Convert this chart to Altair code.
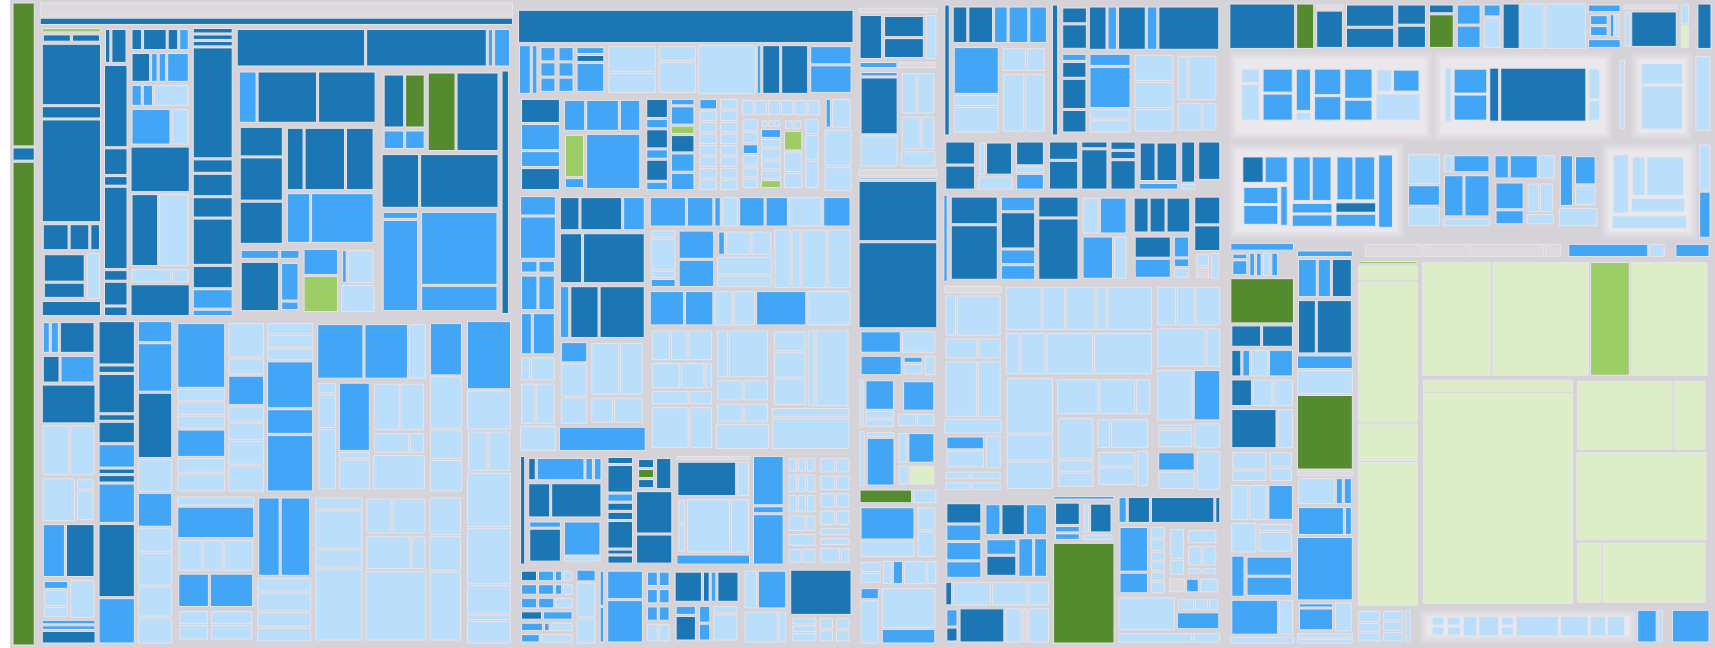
import altair as alt
import pandas as pd

# Colour codes used in the trees: D dark blue, M blue, L light blue,
# G dark green, g green, e pale green, x empty folder, _ spacer (not drawn)
COLORS = {"D": "#1b76b3", "M": "#42a5f5", "L": "#bbdefb", "G": "#558b2f",
          "g": "#9ccc65", "e": "#dcedc8", "x": "#dcd9df"}
HALO = ["#d8d5db", "#dcd9df", "#e0dde3", "#e5e2e7", "#ebe8ed"]

# Node = "C<size>" leaf, or [size, "h"|"v" (upper case: folder with halo), child, ...]
STRIP = [25, "v", "G145", "D12", "G491"]

A_TOP_1 = [62, "v", "g3", [8, "h", "D26", "D26"], "D61", "D11", "D103", [27, "h", "D24", "D18", "D8"],
           [47, "h", [42, "v", "D30", "D16"], "L12"], "D14"]
A_TOP_2 = [25, "v", [34, "h", "D4", "D14"], "D80", "D25", "D8", "D80", "D9", "D22", "D8"]
A_TOP_3 = [62, "v", [22, "h", "D9", "D22", "D9", "M8"], [30, "h", "D17", "M5", "M6", "M20"],
           [22, "h", "M9", "M9", "L34"], [37, "h", "M38", "L16"], "D45", [74, "h", "D25", "L28"],
           [14, "h", "L38", "L15"], "D31"]
A_TOP_4 = [42, "v", "D4", "D4", "D4", "D110", "D12", "D21", "D19", "D45", "D21", "M18", "M5"]
A_P = [146, "v", [52, "h", "M17", "D60", "D58"],
       [120, "h", [46, "v", "D29", "D43", "D42"], [94, "v", [65, "h", "D17", "D43", "D29"], [52, "h", "M24", "M67"]]],
       [66, "h", [63, "v", [10, "h", "M41", "M20"], [52, "h", "D41", [20, "v", "M40", "M8"]]],
        [36, "v", "M25", "g35"], [35, "v", [34, "h", "M4", "L29"], "L26"]]]
A_Q = [136, "h", [119, "v", [80, "h", [43, "v", [56, "h", "D20", "G19"], [20, "h", "M20", "M19"]], "G26", "D40"],
                  [55, "h", "D36", "D77"], [103, "h", [36, "v", "M6", "M95"], [77, "v", "M75", "M25"]]], "D6"]
A_TOP_5 = [286, "v", [38, "h", "D131", "D123", "M4", "M15"], [246, "h", A_P, A_Q]]
A_TOP = [297, "h", A_TOP_1, A_TOP_2, A_TOP_3, A_TOP_4, A_TOP_5]

A_B1 = [56, "v", [31, "h", "M5", "M6", "D31"], [27, "h", "D14", "M30"], "D37", [50, "h", "L24", "L22"],
        [43, "h", "L29", [16, "v", "L10", "L32"]], [53, "h", "M19", "D25"],
        [38, "h", [23, "v", "M6", "L14", "L8"], "L21"], "M3", "M3", "D11"]
A_B2 = [38, "v", "D42", "D6", "D38", "D5", "D20", "M22", "D4", "D6", "M38", "D72", "M44"]
A_B3 = [36, "v", "M20", "M48", "D65", "L32", "M33", "L23", "L32", "L29", "L25"]
R1 = [52, "v", "M66", "L11", "L12", "L12", "M27", "L14", "L17"]
R2 = [39, "v", "L35", "L16", "M30", "L15", "L17", "L24", "L26"]
R3 = [50, "v", "L10", "L11", "L11", "M47", "M24", "M57"]
R4 = [119, "v", [58, "h", "M49", "M46", "L17"],
      [115, "h", [21, "v", "L10", "L35", "L64"], [36, "v", "M73", "L6", "L31"],
       [60, "v", [51, "h", "L29", "L26"], [22, "h", "L43", "L16"], "L36"]]]
R5 = [35, "v", "M51", "L51", "L28", "L30"]
RB1 = [81, "v", "L8", "M31", [32, "h", "L24", "L19", "L30"], [35, "h", "M30", "M43"],
       [32, "h", [30, "v", "L14", "L16"], [43, "v", "L14", "L16"]]]
RB2 = [57, "v", [78, "h", "M20", "M28"], "L12", "L17", "L13", "L12"]
RB3 = [155, "h", [52, "v", "L10", "L36", "L16", "L69"], [67, "v", [35, "h", "L28", "L37"], [33, "h", "L51", "L15"], "L67"],
       [35, "v", "L36", "L33", "L67"]]
R_BLOCK = [298, "v", [176, "h", R1, R2, R3, R4, R5], [152, "h", RB1, RB2, RB3]]
RCOL = [46, "v", "M67", "L38", [40, "h", "L18", "L20"], "L53", "L55", "L27", "L4", "L21"]
A_BOT = [332, "h", A_B1, A_B2, A_B3, R_BLOCK, RCOL]
BLOCK_A = [480, "v", "x13", "D6", A_TOP, A_BOT]

B_R1 = [51, "h", "M10", "M4", [65, "h", [16, "v", "M13", "M13", "M13"], [16, "v", "M13", "M13", "M13"], [29, "v", "M5", "D5", "M26"]],
        [47, "v", "L21", "L16"], [37, "v", "L11", "L25"], "L55", "M3", "D16", "D25", [41, "v", "M14", "M22"]]
B_S1 = [121, "h", [40, "v", "D22", "M24", "M14", "D20"], [80, "v", [31, "h", "M21", "M33", "M20"], [55, "h", [21, "v", "g43", "M9"], "M56"]]]
B_S2 = [50, "h", [23, "v", "D18", "M8", "D18", "M8", "D20", "M7"], [25, "v", "M5", "M17", "g7", "D16", "M17", "M16"]]
B_S3 = [122, "h", [19, "v", "M10", "L10", "L10", "L10", "L10", "L10", "L10", "L10"],
        [19, "v", "L10", "L10", "L10", "L10", "L10", "L10", "L10", "L10"],
        [84, "v", [17, "h", "L12", "L12", "L12", "L12", "L12", "L12"],
         [76, "h", [17, "v", "L12", "L12", "M10", "L12", "L10", "L10"], [22, "v", [8, "h", "L5", "L5", "L5"], "M8", "L8", "L10", "L8", "L8", "g7"],
          [20, "v", [8, "h", "L5", "L5"], "g16", "L17", "L12"], [15, "v", "L10", "L18", "L20"]]]]
B_S4 = [27, "v", [30, "h", "M4", "L18"], "L36", "L23"]
B_R2 = [99, "h", B_S1, B_S2, B_S3, B_S4]
B_C1 = [37, "v", "M19", "M43", [13, "h", "M17", "M17"], [37, "h", "M17", "M17"], [44, "h", "M8", "M18"],
        [25, "h", "L7", "L21"], [43, "h", "L12", "L16"], "L25"]
B_C2 = [89, "v", [34, "h", "D18", "D40", "M20"], [51, "h", "D21", "D61"], [53, "h", "M8", "D27", "D44"],
        [85, "h", [28, "v", "M20", "L34", "L26"], [56, "v", [55, "h", "L30", "L24"], [27, "h", "L23", "L31"]]], "M23"]
B_C3 = [207, "v", [31, "h", "M35", "M25", "M5", "L15", "M24", "M21", "L32", "M26"],
        [61, "h", [26, "v", "L6", "L31", "L6", "M7"], [37, "v", "M28", "M27"], [57, "v", [26, "h", "M6", "L26", "L21"], "L18", "L11"],
         "L15", "L8", "L24", "L22"],
        [36, "h", "M33", "M27", "L17", "L20", "M49", "L42"],
        [126, "h", [66, "v", [33, "h", "L19", "L17", "L25"], [28, "h", "L30", "L25", "L6"], [15, "h", "L39", "L23"], [45, "h", "L39", "L23"]],
         [56, "v", [50, "h", "L10", "L40"], [22, "h", "L24", "L23"], [20, "h", "L24", "L23"], "L25"],
         [82, "v", [78, "h", [35, "v", "L20", "L26", "L27"], "L6", "L34"], "L8", "L30"]]]
B_R3 = [266, "h", B_C1, B_C2, B_C3]
B_D1 = [86, "h", "D4", [80, "v", [23, "h", "D6", "M46", "M6", "M6"], [35, "h", "D21", "D50"], [43, "h", [33, "v", "M5", "D33"], [38, "v", "M35", "L4"]]]]
B_D2 = [69, "h", [27, "v", "D5", "D24", "M6", "D6", "D6", "D24", "D3", "D6"], [38, "v", [31, "h", [18, "v", "D8", "G8", "D8"], "D15"], "D40", "D27"]]
B_D3 = [76, "v", "x2", [33, "h", "D56", "L10"], [51, "h", [7, "v", "L23", "L26"], "L40", "L16"], "M8"]
B_D4 = [32, "v", "M45", "M5", "M46"]
B_D5 = [67, "h", [32, "v", [16, "h", "L9", "L9", "L9"], [20, "h", "L9", "L9", "L9"], [20, "h", "L9", "L9", "L9"], [18, "h", "L18", "L9"], [14, "h", "L27"], [16, "h", "L13", "L13"]],
        [35, "v", [16, "h", "L12", "L11"], [16, "h", "L12", "L11"], [16, "h", "L12", "L11"], [16, "h", "L12", "L11"], [8, "h", "L23"], [8, "h", "L23"], [16, "h", "L22", "L9"]]]
B_R4 = [115, "h", B_D1, B_D2, B_D3, B_D4, B_D5]
B_E1 = [55, "v", [10, "h", "D13", "M13", "M5", "L7"], [10, "h", "M13", "M13", "M5", "L7"], [10, "h", "M13", "M13", "L14"],
        [8, "h", "D20", "M29"], [8, "h", "M20", "M4", "L20"], [8, "h", "M17", "L30"]]
B_E2 = [20, "v", "M9", "L30", "L21"]
B_E3 = [145, "h", [5, "v", "M30", "M30"], [36, "v", "M23", "M35"],
        [25, "v", [13, "h", "M11", "M11"], [13, "h", "M11", "M11"], [13, "h", "M11", "M11"], [16, "h", "L11", "L11"]],
        [66, "v", [28, "h", "D25", "D5", "M4", "D19"], [34, "h", [21, "v", "M8", "D24"], [12, "v", "M16", "M16"], [25, "v", "L6", "L25"]]]]
B_E4 = [45, "v", [34, "h", "L10", "M25"], [28, "h", "L32", "L6"]]
B_E5 = [63, "v", "D42", [25, "h", [28, "v", "L6", "L6", "L8"], [16, "v", "L8", "L8"], [16, "v", "L8", "L8"]]]
B_R5 = [79, "h", B_E1, B_E2, B_E3, B_E4, B_E5]
BLOCK_B = [341, "v", "_5", "D33", B_R1, B_R2, B_R3, B_R4, B_R5]

C_T1 = [47, "h", "D17", [33, "v", "D14", "D13"], "L7"]
C_T2 = [102, "h", [30, "v", "M3", "D56", "L30"], [28, "v", [42, "h", "L12", "L14"], [34, "h", "L16", "L10"], "L14"]]
C_R3 = [49, "v", [22, "h", "M34", "L28"], [20, "h", "M35", [17, "v", "M4", "L8"], "L8"]]
C_R4 = [52, "h", "L2", [27, "v", "M24", "L5", "L5"], [36, "v", [28, "h", "_2", "M26"], [12, "h", "L18", "L17"]]]
C_R5 = [59, "h", "L3", [25, "v", "L3", "M44"], [34, "v", [28, "h", "L8", "M26"], [18, "h", "L8", "e22"]]]
C_R6 = [15, "h", "G45", "L19"]
C_R7 = [55, "h", [48, "v", "M33", "L16"], [16, "v", "L23", "L26"]]
C_R8 = [25, "h", [17, "v", "L8", "L8"], "L6", "M7", "L17", "L6"]
C_R9 = [61, "h", [18, "v", "M10", "L43"], [52, "v", "L38", "M13"]]
BLOCK_C = [82, "v", "_3", "x4", C_T1, [7, "h", "M35", "x35"], C_T2, "x6", "M1", "D62", "D89",
           C_R3, C_R4, C_R5, C_R6, C_R7, C_R8, C_R9]

D_1 = [107, "h", "D4", [98, "v", [38, "h", "D13", "D23", "M12", "M18", "M16"],
                        [90, "h", [47, "v", "M47", "L10", "L25"], [46, "v", [25, "h", "L24", "L18"], [62, "h", "L22", "L20"]]]]]
D_2 = [173, "h", "D5", [165, "v", [47, "h", [25, "v", "D17", "D27"], "D16", "M8", "D26", "M9", "D59"],
                        [87, "h", [25, "v", "M6", "D15", "D30", "D22"], [42, "v", "M12", "M44", "L10", "L12"],
                         [86, "h", [42, "v", "L28", "L28", "L24"], [44, "v", [50, "h", "L10", "L30"], [31, "h", "L26", "L14"]]]]]]
D_TOP = [137, "h", D_1, D_2]
D_3 = [54, "h", [100, "h", [30, "v", "D22", "D23"], [35, "v", [34, "h", "L5", "D27"], "L12"], [28, "v", "D22", "L5", "M14"]],
       [172, "h", [29, "v", "D14", "D23"], [26, "v", "D4", "D32"], [25, "v", "D5", "D5", "D22"], [39, "v", [33, "h", "D15", "D20"], "M4"],
        [14, "v", "D37", "L4"], [22, "v", "D32", "_6"]]]
D_4 = [90, "h", "M3", [183, "h", [49, "v", "D24", "D49"], [36, "v", "M12", "D32", "M12", "M12"], [42, "v", "D18", "D56"],
                       [48, "v", [34, "h", "L16", "M27"], [40, "h", "M31", "L12"]]],
       [92, "h", [60, "v", [34, "h", "D14", "D15", "D23"], [42, "h", [39, "v", "D19", "M17"], [17, "v", "M19", "M7", "L8"]]],
        [27, "v", "D24", "D22", [24, "h", [12, "v", "L11", "x10"], "L6"]]]]
D_P1 = [59, "v", "x6", [40, "h", "L8", "L38"], [20, "h", "L28", "L19"], [55, "h", "L27", "L19"], "L13",
        [33, "h", [35, "v", "M13", "L18"], "L12"], [8, "h", "L21", "L25"], [8, "h", "L21", "L25"]]
D_P2 = [152, "v", [44, "h", "L36", "L22", "L29", "L9", "L45"], [42, "h", "L13", "L24", "L46", "L58"],
        [114, "h", [50, "v", "L56", "L25", "L27"],
         [102, "v", [38, "h", "L44", "L38", "L14"],
          [76, "h", [39, "v", "L43", "L11", "L14"], [58, "v", [33, "h", "L13", "L41"], [40, "h", [43, "v", "L16", "L20"], "L11"]]]]]]
D_P3 = [67, "v", [40, "h", "L18", "L17", "L24"], [40, "h", "L46", "L12"], [52, "h", "L34", "M25"],
        [26, "h", [34, "v", "L4", "L18"], "L24"], [40, "h", [37, "v", "M17", "L16"], "L22"]]
D_5 = [213, "h", D_P1, D_P2, D_P3]
D_Q1 = [108, "v", "_3", [80, "h", [36, "v", "D20", "M16", "M18", "M16"], [65, "v", [33, "h", "M13", "D21", "M19"], [41, "h", [32, "v", "M16", "D21"], "M14", "M12"]]],
        [25, "h", "D5", "L35", "L33", "L18"], [36, "h", [11, "v", "M14", "D11"], "D41", "L14", "x3", "L18"]]
D_Q2 = [63, "v", "M2", [38, "h", [25, "v", "D21", "M5", "M5"], [30, "v", [30, "h", "L3", "D17"], "L4"]], "G95"]
D_Q3 = [106, "v", [27, "h", "M6", "D19", "D57", "D3"],
        [70, "h", [28, "v", "M43", "M19"], [14, "v", "L8", "L8", "L6", "L6", "L6", "L8"],
         [50, "v", [48, "h", [14, "v", "L14", "L6"], [30, "v", [14, "h", "L30"], [20, "h", "L14", "L14"], [6, "h", "L14", "L14"]]], [14, "h", "x12", "M9", "L14"]]],
        [34, "h", "L55", [43, "v", [12, "h", "L15", "L12", "L8"], "M16"]], [10, "h", "L75", "L27"]]
D_6 = [154, "h", D_Q1, D_Q2, D_Q3]
BLOCK_D = [286, "v", D_TOP, D_3, D_4, D_5, D_6]

E_1 = [47, "h", "D66", "G17", [28, "v", "x3", "D32"], [50, "v", "D20", "D18"], [30, "v", "D18", "D20"], [26, "v", "D7", "G31"],
       [25, "v", "M17", "M19"], [18, "v", "M10", "L28"], "D16", "L23", "L40",
       [34, "v", "M5", [20, "h", [22, "v", "M7", "M7"], "M4", "L4"], "M6"], [56, "v", "x3", [33, "h", "L4", "D44"]],
       [9, "v", "L14", "e16"], "_4", "D13"]
E_G1 = [205, "V", "_2", [52, "h", [19, "v", "L13", "L35"], [31, "v", "M22", "M25"], [16, "v", "M40", "L7"],
                          [28, "v", "M24", "M22"], [29, "v", "M28", "M19"], [46, "v", [22, "h", "L16", "M28"], "L25"]], "_5"]
E_G2 = [180, "V", "_2", [52, "h", "L6", [36, "v", "M22", "M23"], "D9", "D89", [13, "v", "L28", "L18"]], "_5"]
E_G3 = [80, "h", "_2", [6, "v", "_4", "L74", "_8"], "_2", [60, "V", "L22", "L46"]]
E_2 = [91, "h", E_G1, E_G2, E_G3, [16, "v", "_1", "L82", "_7"]]
E_F1 = [175, "V", [80, "h", [50, "v", [30, "h", "D22", "M24"], [45, "h", [40, "v", "M18", "M21"], "M7"]],
                   [43, "v", [49, "h", "M19", "M21"], "M10", "M12"],
                   [43, "v", [49, "h", "M16", "M20"], "D10", "M13"], "M14"]]
E_F2 = [196, "v", "_6", [82, "h", [33, "v", "L30", "M20", "L19"], [49, "v", [19, "h", "L8", "M38"], [45, "h", "M20", "M26"], "L7"],
                         [64, "v", [27, "h", "M14", "M29", "L16"], [50, "h", [31, "v", "M30", "M15"], [30, "v", [35, "h", "L13", "L15"], "L11"]]],
                         [40, "v", [60, "h", "M11", [20, "v", "M31", "L21"]], "L20"]], "_8"]
E_F3 = [95, "V", [60, "h", "L15", [55, "v", [40, "h", "L13", "L39"], "L13"]], "L12"]
E_3 = [98, "h", E_F1, E_F2, E_F3, [12, "v", "L46", "M46"]]
E_C1 = [66, "v", "M6", [23, "h", [15, "v", "M4", "M13"], "M4", "M4", "L6", "M5", "_12"], "G42", [21, "h", "D26", "D27"],
        [26, "h", "D7", "M5", "L13", "M19"], [26, "h", "D17", "L16", "L16"], [38, "h", "D41", "L13"],
        [30, "h", [32, "v", "L27", "L16"], [21, "v", "L27", "L23"]], [34, "h", "L14", "L15", "M21"],
        [29, "h", "L23", [33, "v", "L6", "L19"]], [40, "h", "M10", [40, "v", "M15", "M15"]], [34, "h", "M41", "L11"], "L5"]
E_C2 = [58, "v", "_5", "M5", [38, "h", "M15", "M10", "D16"], [53, "h", "D15", "D31"], "M12", "L22", "G72", "x4",
        [26, "h", "L33", "M5", "M6"], [28, "h", "M42", "M5"], "M61", [29, "h", [32, "v", "M3", "M22"], "L14"], "L3", "L3"]
E_C3 = [365, "v", [14, "h", "_6", "x60", "x48", "x77", "x16", "_4", "M84", "L15", "_8", "M35"],
        [355, "h", [62, "v", "g2", "e14", "e143", "e37", "e146"],
         [295, "v", [118, "h", "e69", "e98", "g39", "e77"],
          [234, "h", [157, "v", "e11", "e217"], [136, "v", [72, "h", "e99", "e32"], "e90", [63, "h", "e24", "e107"]]]]],
        [34, "h", [24, "v", "L8", "L6", "L6"], [22, "v", "L6", "L6", "L6"], "L4", "_6",
         [226, "V", [16, "h", [15, "v", "L7", "L7"], [16, "v", "L7", "L7"], "L15", "L22", [15, "v", "L7", "L7"],
                     "L47", "L31", "L17", "L19"]], "M19", "L4", "_6", "M38"]]
E_4 = [412, "h", E_C1, E_C2, E_C3]
BLOCK_E = [491, "v", E_1, E_2, E_3, E_4]

W, H = 1705, 648
ROOT = [W, "h", STRIP, BLOCK_A, BLOCK_B, BLOCK_C, BLOCK_D, BLOCK_E]
GAP = 2.5
rows = []


def ext(n):
    return (float(n[1:]) if isinstance(n, str) else float(n[0])) + GAP


def add(x0, y0, x1, y1, fill, stroke):
    rows.append({"x": x0, "x2": x1, "y": y0, "y2": y1, "fill": fill, "stroke": stroke})


def place(n, x0, y0, x1, y1, depth):
    if isinstance(n, str):
        c = n[0]
        if c == "_":
            return
        ix = min(1.0, (x1 - x0) * 0.3)
        iy = min(1.0, (y1 - y0) * 0.3)
        add(x0 + ix, y0 + iy, x1 - ix, y1 - iy, COLORS[c], "#e7e5ea")
        return
    d = n[1]
    kids = n[2:]
    if d.isupper():
        # folder drawn with a soft halo of lighter rings
        for i, s in enumerate(HALO):
            k = i * 2.0
            if x1 - x0 > 2 * k and y1 - y0 > 2 * k:
                add(x0 + k, y0 + k, x1 - k, y1 - k, s, s)
        p = 10
        d = d.lower()
    else:
        p = 0 if depth == 0 else (2 if depth == 1 else 1)
    px = min(p, (x1 - x0) * 0.15)
    py = min(p, (y1 - y0) * 0.15)
    x0, x1, y0, y1 = x0 + px, x1 - px, y0 + py, y1 - py
    tot = sum(ext(k) for k in kids)
    pos = x0 if d == "h" else y0
    for k in kids:
        if d == "h":
            w = (x1 - x0) * ext(k) / tot
            place(k, pos, y0, pos + w, y1, depth + 1)
        else:
            w = (y1 - y0) * ext(k) / tot
            place(k, x0, pos, x1, pos + w, depth + 1)
        pos += w


place(ROOT, 0, 0, W, H, 0)
df = pd.DataFrame(rows)

chart = alt.Chart(df).mark_rect(strokeWidth=1).encode(
    x=alt.X("x:Q", scale=alt.Scale(domain=[0, W], nice=False, zero=False), axis=None),
    x2="x2:Q",
    y=alt.Y("y:Q", scale=alt.Scale(domain=[0, H], reverse=True, nice=False, zero=False), axis=None),
    y2="y2:Q",
    color=alt.Color("fill:N", scale=None),
    stroke=alt.Stroke("stroke:N", scale=None),
).properties(
    width=W, height=H, autosize="none",
    padding={"left": 10, "top": 0, "right": 0, "bottom": 0},
    background="white",
).configure_view(fill="#d5d2d8", strokeWidth=0)

chart.save("out.html", embed_options={"renderer": "svg", "actions": False})
